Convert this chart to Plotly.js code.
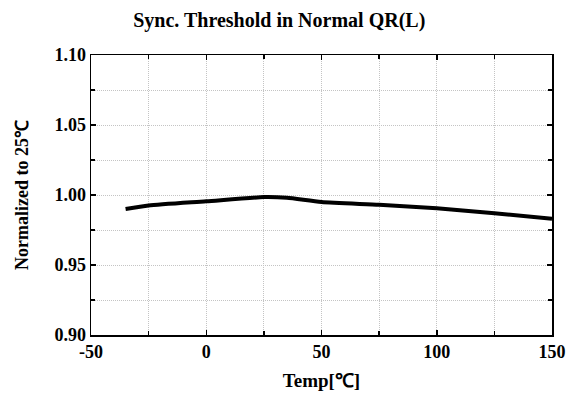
<!DOCTYPE html>
<html>
<head>
<meta charset="utf-8">
<script src="https://cdn.plot.ly/plotly-3.0.1.min.js"></script>
<style>html,body{margin:0;padding:0;background:#fff;}#chart{width:577px;height:399px;}</style>
</head>
<body>
<div id="chart"></div>
<script>
const tempC = [-35, -25, 0, 25, 35, 50, 75, 100, 125, 150];
const normalized = [0.990, 0.9925, 0.9955, 0.9985, 0.998, 0.995, 0.993, 0.9905, 0.987, 0.983];
const xTickVals = [-50, 0, 50, 100, 150];
const yTickVals = [0.90, 0.95, 1.00, 1.05, 1.10];
const yTickText = ['0.90', '0.95', '1.00', '1.05', '1.10'];

const font = {family: '"Liberation Serif", "Times New Roman", serif', color: '#000'};
const gridStyle = {showgrid: true, gridcolor: '#c4c4c4', gridwidth: 1, griddash: '1px,1px'};

Plotly.newPlot('chart', [{
  x: tempC, y: normalized, type: 'scatter', mode: 'lines',
  line: {color: '#000', width: 4, shape: 'spline', smoothing: 0.6},
  hoverinfo: 'skip'
}], {
  width: 577, height: 399,
  margin: {l: 91, r: 25, t: 55, b: 64},
  paper_bgcolor: '#fff', plot_bgcolor: '#fff',
  showlegend: false,
  title: {text: '<b>Sync. Threshold in Normal QR(L)</b>', x: 0.484, xanchor: 'center', y: 0.95, yanchor: 'middle',
          font: Object.assign({size: 20}, font)},
  xaxis: Object.assign({
    range: [-50, 150], tickmode: 'array', tickvals: xTickVals, ticktext: xTickVals.map(v => '<b>' + v + '</b>'),
    ticks: 'inside', ticklen: 5, tickwidth: 1.5, tickcolor: '#000', mirror: 'allticks',
    showline: true, linecolor: '#000', linewidth: 1.5, zeroline: false,
    tickfont: Object.assign({size: 18}, font),
    minor: {dtick: 25, tick0: -50, ticks: 'inside', ticklen: 4, tickcolor: '#000', showgrid: true, gridcolor: '#c4c4c4', griddash: '1px,1px', gridwidth: 1},
    title: {text: '<b>Temp[℃]</b>', font: Object.assign({size: 19}, font), standoff: 12}
  }, gridStyle),
  yaxis: Object.assign({
    range: [0.90, 1.10], tickmode: 'array', tickvals: yTickVals, ticktext: yTickText.map(v => '<b>' + v + '</b>'),
    ticks: 'inside', ticklen: 5, tickwidth: 1.5, tickcolor: '#000', mirror: 'allticks',
    showline: true, linecolor: '#000', linewidth: 1.5, zeroline: false,
    tickfont: Object.assign({size: 18}, font),
    minor: {dtick: 0.025, tick0: 0.9, ticks: 'inside', ticklen: 4, tickcolor: '#000', showgrid: true, gridcolor: '#c4c4c4', griddash: '1px,1px', gridwidth: 1},
    title: {text: '<b>Normalized to 25℃</b>', font: Object.assign({size: 18}, font), standoff: 21}
  }, gridStyle)
}, {displayModeBar: false, staticPlot: true});
</script>
</body>
</html>
